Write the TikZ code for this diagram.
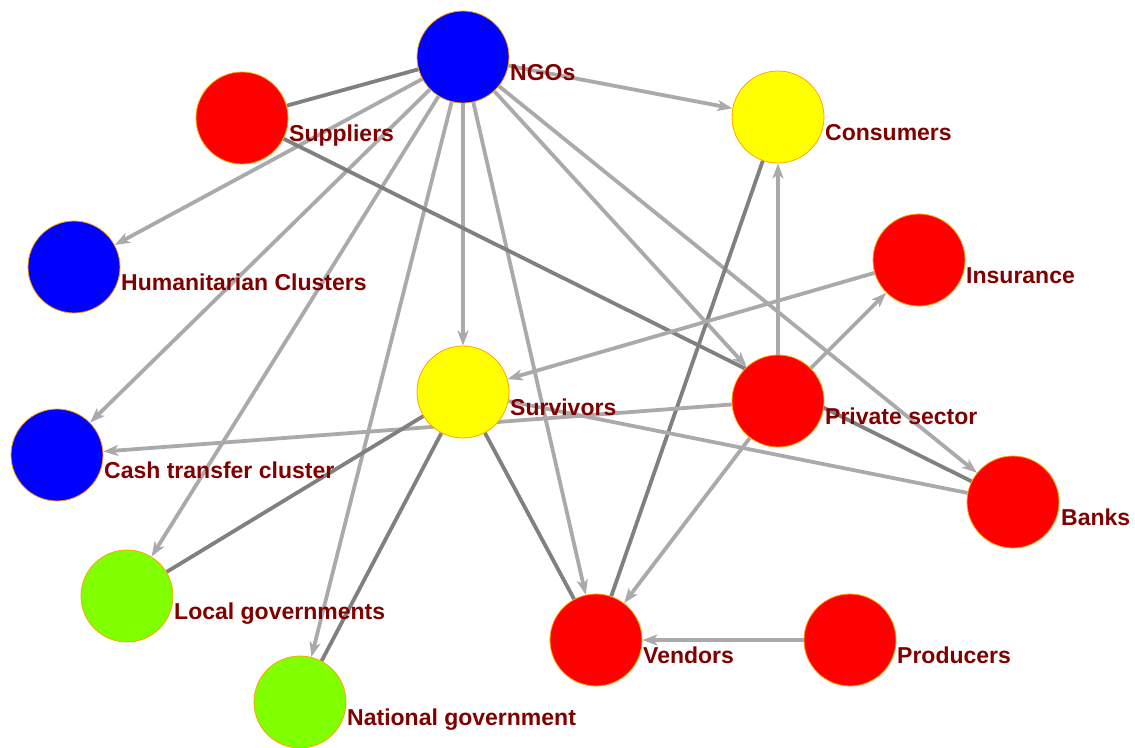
\documentclass[tikz,border=0pt]{standalone}
\usepackage{fontspec}
\setmainfont{Liberation Sans}
\usetikzlibrary{arrows.meta}
\definecolor{lightedge}{RGB}{170,170,170}
\definecolor{darkedge}{RGB}{128,128,128}
\definecolor{labelred}{RGB}{128,0,0}
\definecolor{rimorange}{RGB}{255,165,0}
\definecolor{nblue}{RGB}{0,0,255}
\definecolor{nred}{RGB}{255,0,0}
\definecolor{nyellow}{RGB}{255,255,0}
\definecolor{ngreen}{RGB}{127,255,0}
\pgfdeclarelayer{bg}
\pgfsetlayers{bg,main}
\tikzset{
  vert/.style={circle, minimum size=92pt, inner sep=0pt, draw=rimorange, line width=0.8pt, fill=#1},
  lab/.style={anchor=base west, inner sep=0pt, text=labelred, font=\fontsize{23}{27}\selectfont\bfseries},
  arr/.style={draw=lightedge, line width=3.8pt, -{Stealth[length=15pt,width=11pt,inset=4pt]}},
  plainlight/.style={draw=lightedge, line width=3.8pt},
  tie/.style={draw=darkedge, line width=3.8pt},
}
\begin{document}
\begin{tikzpicture}[x=1pt,y=-1pt]
\useasboundingbox (0,0) rectangle (1135,747);
% nodes
\node[vert=nblue]   (ngo)  at (463,57)  {};
\node[vert=nred]    (sup)  at (242,118) {};
\node[vert=nyellow] (con)  at (778,117) {};
\node[vert=nblue]   (hum)  at (74,267)  {};
\node[vert=nred]    (ins)  at (919,260) {};
\node[vert=nyellow] (sur)  at (463,392) {};
\node[vert=nred]    (pri)  at (778,401) {};
\node[vert=nblue]   (cash) at (57,455)  {};
\node[vert=nred]    (bank) at (1013,502) {};
\node[vert=ngreen]  (loc)  at (127,596) {};
\node[vert=nred]    (ven)  at (596,640) {};
\node[vert=nred]    (pro)  at (850,640) {};
\node[vert=ngreen]  (nat)  at (300,702) {};
% edges
\begin{pgfonlayer}{bg}
\draw[tie] (ngo) -- (sup);
\draw[arr] (ngo) -- (con);
\draw[arr] (ngo) -- (hum);
\draw[arr] (ngo) -- (cash);
\draw[arr] (ngo) -- (loc);
\draw[arr] (ngo) -- (nat);
\draw[arr] (ngo) -- (sur);
\draw[arr] (ngo) -- (ven);
\draw[arr] (ngo) -- (pri);
\draw[arr] (ngo) -- (bank);
\draw[tie] (sup) -- (bank);
\draw[tie] (con) -- (ven);
\draw[arr] (pri) -- (con);
\draw[arr] (pri) -- (ins);
\draw[arr] (ins) -- (sur);
\draw[arr] (pri) -- (cash);
\draw[plainlight] (sur) -- (bank);
\draw[tie] (sur) -- (loc);
\draw[tie] (sur) -- (nat);
\draw[tie] (sur) -- (ven);
\draw[arr] (pri) -- (ven);
\draw[arr] (pro) -- (ven);
\end{pgfonlayer}
% labels
\node[lab] (lngo)  at (510,80)  {NGOs};
\node[lab] (lsup)  at (289,141) {Suppliers};
\node[lab] (lcon)  at (825,140) {Consumers};
\node[lab] (lhum)  at (121,290) {Humanitarian Clusters};
\node[lab] (lins)  at (966,283) {Insurance};
\node[lab] (lsur)  at (510,415) {Survivors};
\node[lab] (lpri)  at (825,424) {Private sector};
\node[lab] (lcash) at (104,478) {Cash transfer cluster};
\node[lab] (lbank) at (1061,525) {Banks};
\node[lab] (lloc)  at (174,619) {Local governments};
\node[lab] (lven)  at (643,663) {Vendors};
\node[lab] (lpro)  at (897,663) {Producers};
\node[lab] (lnat)  at (347,725) {National government};
\end{tikzpicture}
\end{document}
